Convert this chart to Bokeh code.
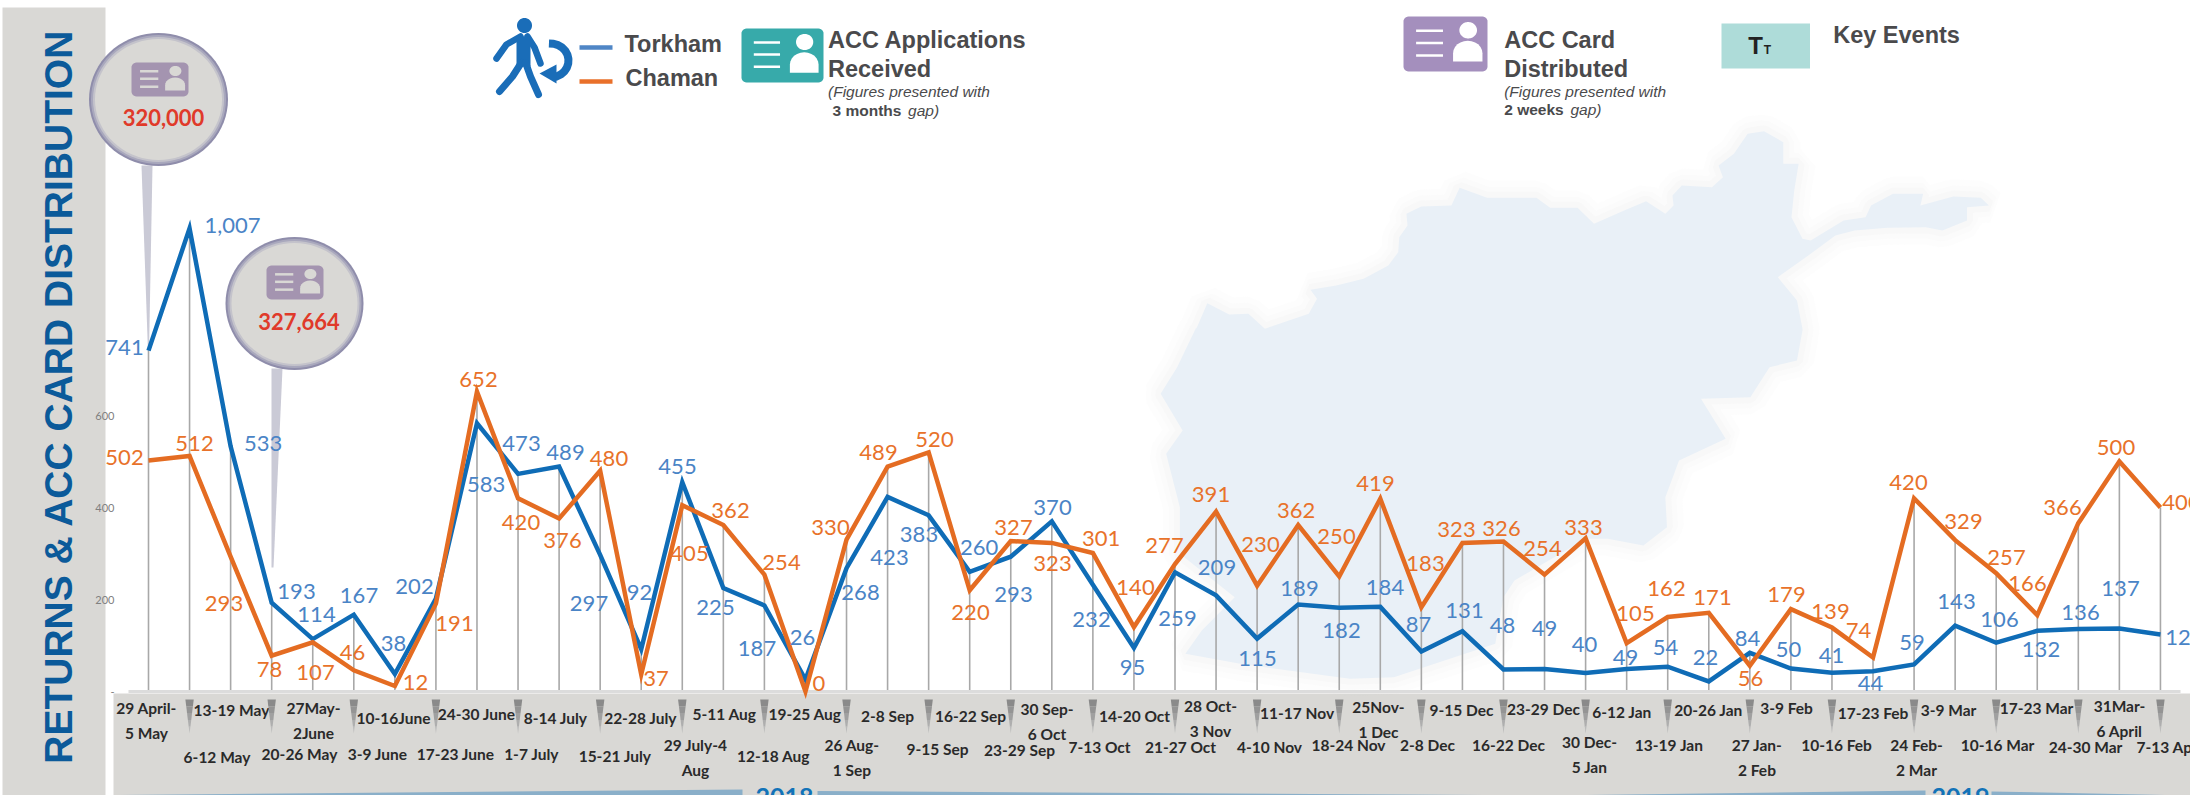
import math
from bokeh.plotting import figure
from bokeh.embed import file_html
from bokeh.resources import INLINE
from bokeh.core.properties import value
from bokeh.models import FixedTicker

# ---------- data ----------
weeks = ["29 April-\n5 May","6-12 May","13-19 May","20-26 May","27May-\n2June","3-9 June","10-16June",
         "17-23 June","24-30 June","1-7 July","8-14 July","15-21 July","22-28 July","29 July-4\nAug",
         "5-11 Aug","12-18 Aug","19-25 Aug","26 Aug-\n1 Sep","2-8 Sep","9-15 Sep","16-22 Sep","23-29 Sep",
         "30 Sep-\n6 Oct","7-13 Oct","14-20 Oct","21-27 Oct","28 Oct-\n3 Nov","4-10 Nov","11-17 Nov",
         "18-24 Nov","25Nov-\n1 Dec","2-8 Dec","9-15 Dec","16-22 Dec","23-29 Dec","30 Dec-\n5 Jan",
         "6-12 Jan","13-19 Jan","20-26 Jan","27 Jan-\n2 Feb","3-9 Feb","10-16 Feb","17-23 Feb",
         "24 Feb-\n2 Mar","3-9 Mar","10-16 Mar","17-23 Mar","24-30 Mar","31Mar-\n6 April","7-13 Apr"]
torkham = [741,1007,533,193,114,167,38,202,583,473,489,297,92,455,225,187,26,268,423,383,260,293,370,232,95,
           259,209,115,189,182,184,87,131,48,49,40,49,54,22,84,50,41,44,59,143,106,132,136,137,124]
chaman = [502,512,293,78,107,46,12,191,652,420,376,480,37,405,362,254,0,330,489,520,220,327,323,301,140,
          277,391,230,362,250,419,183,323,326,254,333,105,162,171,56,179,139,74,420,329,257,166,366,500,400]
y_ticks = [0,200,400,600]

# ---------- layout (page pixels) ----------
X0, DX, Y0, KY = 148.0, 41.06, 691.0, 0.46
W, H = 2190, 795
fx = lambda px: (px - X0) / DX
fy = lambda py: (Y0 - py) / KY
fxs = lambda a: [fx(v) for v in a]
fys = lambda a: [fy(v) for v in a]

tork_lx = [124,232,262.6,296,316,358.5,393,414,485.6,521,565,588.5,639,677,715,756.5,802,860,889,918.5,978.6,1013,1052,1091,1132,
           1177,1216.5,1257,1299,1341,1384.5,1418,1464,1502,1544,1584,1625,1665,1705,1747,1788,1831,1870,1911.6,1956,1999,2040.5,2080,2120,2184]
tork_ly = [347,225,443,591,614,595,643,586,484,443,452,603,592,466,607,648,637,592,557,534,547,594,507,619,667,
           618,567,658,588,630,587,624,610,625,628,644,657,647,657,638,649,655,683,642,601,619,649,612,588,637]
cham_lx = [124,194,223.5,269,315,352,415,454,478,520.5,562,608.5,655.5,689,730,781,818.5,830,878,934,970,1013,1052,1100.6,1135,
           1164,1210.5,1260,1295.6,1336,1375,1425,1456,1501,1542,1583,1635,1666,1712,1750,1786,1830,1858,1908,1963,2006,2027,2062,2115.5,2181]
cham_ly = [457,443,603,669,672,652,682,623,379,522,540,458,678,553,510,562,683,527,452,439,612,527,563,538,587,
           545,494,544,510,536,483,563,529,528,548,527,613,588,597,678,594,611,630,482,521,557,583,507,447,502]
week_lx = [146,216.5,231,299,313,377,393,455,476,531,555,614.5,640,695,724,773,804.5,851.5,887,937,970,1019,1046.5,1099,1134,
           1180,1210,1269,1296.6,1348,1378,1427,1461,1508,1543,1589,1621.5,1668.6,1708,1756.5,1786,1836,1872.5,1916,1948,1997,2036,2085,2119,2167]
week_ly = [720,756,709,753,720,753,717,753,713,753,717,755,717,757,713,755,713,757,715,748,715,749,721,746,715,
           746,718,746,712,744,719,744,709,744,708,754,711,744,709,757,707,744,712,757,709,744,707,746,718,746]

GREY = "#d9d8d5"
BLUE, ORANGE = "#0f6cb6", "#e46c22"
BLUE_T, ORANGE_T = "#4a84c6", "#e8722a"
INK = "#4a4a4c"
BODY = "Lato"

p = figure(width=W, height=H, output_backend="svg", toolbar_location=None,
           x_range=(fx(0), fx(W)), y_range=(fy(H), fy(0)),
           x_axis_location=None, y_axis_location="left",
           min_border_left=0, min_border_right=0, min_border_top=0, min_border_bottom=0,
           outline_line_color=None, background_fill_color="white", border_fill_color="white")
p.grid.visible = False
ax = p.yaxis[0]
ax.fixed_location = fx(116)
ax.ticker = FixedTicker(ticks=y_ticks)
ax.major_label_overrides = {0: "-"}
ax.axis_line_color = None
ax.major_tick_line_color = None
ax.minor_tick_line_color = None
ax.major_tick_out = 0
ax.major_tick_in = 0
ax.major_label_standoff = 2
ax.major_label_text_font = BODY
ax.major_label_text_font_size = "11px"
ax.major_label_text_color = "#808080"


def ell(cx, cy, w, h, n=72):
    t = [2 * math.pi * i / n for i in range(n)]
    return [cx + w / 2 * math.cos(a) for a in t], [cy + h / 2 * math.sin(a) for a in t]


def poly(xs, ys, color, level="glyph", alpha=1.0):
    p.patch(fxs(xs), fys(ys), fill_color=color, line_color=None, level=level, fill_alpha=alpha)


def txt(x, y, s, size, color=INK, font="Liberation Sans", style="normal", align="left", angle=0):
    p.text([fx(x)], [fy(y)], [s], text_font=value(font), text_font_size=f"{size}px", text_color=color,
           text_font_style=style, text_align=align, text_baseline="middle", angle=angle)


def rrect(x0, x1, y0, y1, r):
    xs, ys = [], []
    for cx, cy, a0 in [(x1 - r, y0 + r, -90), (x1 - r, y1 - r, 0), (x0 + r, y1 - r, 90), (x0 + r, y0 + r, 180)]:
        for k in range(7):
            a = math.radians(a0 + 15 * k)
            xs.append(cx + r * math.cos(a)); ys.append(cy + r * math.sin(a))
    return xs, ys


def card(x0, x1, y0, y1, color, ink="white"):
    w, h = x1 - x0, y1 - y0
    poly(*rrect(x0, x1, y0, y1, 5), color)
    for fr in (.26, .48, .71):
        p.line(fxs([x0 + .15 * w, x0 + .47 * w]), fys([y0 + fr * h] * 2), line_color=ink, line_width=2.5)
    poly(*ell(x0 + .77 * w, y0 + .25 * h, .21 * w, .30 * h), ink)
    bx0, bx1, by0, by1 = x0 + .59 * w, x0 + .94 * w, y0 + .44 * h, y0 + .82 * h
    bw = bx1 - bx0
    dome = [(bx0 + bw / 2 - bw / 2 * math.cos(math.pi * k / 12), by0 + (by1 - by0) * .6 - (by1 - by0) * .6 * math.sin(math.pi * k / 12)) for k in range(13)]
    poly([d[0] for d in dome] + [bx1, bx0], [d[1] for d in dome] + [by1, by1], ink)


def box(x0, x1, y0, y1, color):
    poly([x0, x1, x1, x0], [y0, y0, y1, y1], color, level="underlay")


def bubble(cx, cy, w, h):
    for d, col in [(0, "#8f8dab"), (4, "#a9a8bd"), (8, "#c4c3cb"), (12, GREY)]:
        poly(*ell(cx, cy, w - d, h - d), col, level="underlay")


# ---------- background panels ----------
box(2, 105, 7, H, GREY)
box(113, W, 693, H, GREY)

# map silhouette
z10 = [(120,655),(140,578),(180,612),(215,610),(245,655),(262,645),(325,610),(340,565),(328,538),(375,525),(425,505),(470,465),
       (488,425),(490,380),(505,345),(503,310),(530,288),(585,285),(600,232),(650,262),(740,262),(765,292),(815,292),(845,340),
       (900,300),(940,272),(975,310),(990,285),(988,255),(1005,225),(1060,230),(1080,200),(1072,165),(1100,130),(1125,70),(1155,62),
       (1190,95),(1190,160),(1218,160),(1210,240),(1205,320),(1225,385),(1240,390),(1300,330),(1340,320),(1350,285),(1390,250),
       (1445,250),(1440,285),(1500,258),(1550,262),(1565,285),(1525,290),(1525,330),(1480,360),(1450,350),(1380,352),(1320,360),
       (1285,375),(1240,430),(1180,500),(1215,570),(1225,655)]
z7 = [(1225,300),(1215,390),(1165,410),(1130,500),(1040,505),(1085,625),(1000,690),(975,800),(978,890),(935,945),(870,925),(830,925),
      (700,1050),(680,1100),(665,1240),(480,1340),(400,1345),(200,1300),(100,1270),(130,1200),(190,1100),(90,970),(90,830),(65,670),
      (95,600),(55,490),(85,410),(120,290)]
map_x = [1130 + a / 1.823 for a, b in z10] + [1130 + a / 1.823 for a, b in z7]
map_y = [110 + b / 3 for a, b in z10] + [230 + b / 3 for a, b in z7]
for lw, al in [(34, .05), (22, .07), (12, .10)]:
    p.patch(fxs(map_x), fys(map_y), fill_color=None, fill_alpha=0, line_color="#dddddd", line_alpha=al, line_width=lw, level="underlay")
poly(map_x, map_y, "#e9f0f7", level="underlay")

# year ribbons
for xs, ys in [([119,742,742,119],[794.5,789,795,795]), ([817,1482,1482,817],[790.5,794.5,795,795]),
               ([1587,1925,1925,1587],[794.5,790,795,795]), ([1991,2164,2164,1991],[791,794.5,795,795])]:
    poly(xs, ys, "#8aafc9", level="underlay")

# ---------- callout needles and bubbles ----------
poly([141,152,148.5,147.5],[165,165,352,352], "#cacad6", level="underlay")
poly([271,282,273,271],[368,368,567,567], "#cacad6", level="underlay")
bubble(158, 99, 139, 133)
bubble(294, 303, 138, 133)

# ---------- chart ----------
idx = list(range(len(weeks)))
p.segment(idx, [0] * len(idx), idx, [max(a, b) for a, b in zip(torkham, chaman)], line_color="#a8a8a8", line_width=1.6)
p.line(fxs([128, 2180]), [0, 0], line_color="#dcdcdc", line_width=3)
p.line(idx, torkham, line_color=BLUE, line_width=4.5, line_join="miter")
p.line(idx, chaman, line_color=ORANGE, line_width=4.5, line_join="miter")


def labels(vals, lx, ly, color):
    p.text(idx, vals, [f"{v:,}" for v in vals],
           x_offset=[a - (X0 + DX * i) for i, a in enumerate(lx)],
           y_offset=[b - (Y0 - KY * v) for v, b in zip(vals, ly)],
           text_font=value(BODY), text_font_size="22px", text_color=color, text_align="center", text_baseline="middle")


labels(torkham, tork_lx, tork_ly, BLUE_T)
labels(chaman, cham_lx, cham_ly, ORANGE_T)

# week labels and pointers
p.text(idx, [0] * len(idx), weeks,
       x_offset=[a - (X0 + DX * i) for i, a in enumerate(week_lx)],
       y_offset=[b - Y0 for b in week_ly],
       text_font=value(BODY), text_font_style="bold", text_font_size="15.5px", text_color="#2a2a2a",
       text_align="center", text_baseline="middle", text_line_height=1.35)
for i in idx[1::2]:
    cx = X0 + DX * i
    for k, col in enumerate(["#8a8a8a", "#949494", "#a0a0a0", "#aeaeae", "#bbbbbb"]):
        t0, t1 = k / 5, (k + 1) / 5
        hw0, hw1 = 4.2 * (1 - t0), 4.2 * (1 - t1)
        poly([cx - hw0, cx + hw0, cx + hw1, cx - hw1], [699 + 34 * t0, 699 + 34 * t0, 699 + 34 * t1, 699 + 34 * t1], col)

# year labels
txt(784, 796, "2018", 25, "#1273b8", BODY, "bold", "center")
txt(1960, 796, "2019", 25, "#1273b8", BODY, "bold", "center")

# ---------- bubbles content ----------
card(131, 188, 62, 96, "#a494b0", GREY)
txt(163, 117, "320,000", 22, "#e03a2a", BODY, "bold", "center")
card(266, 323, 265, 299, "#a494b0", GREY)
txt(298.5, 321, "327,664", 22, "#e03a2a", BODY, "bold", "center")

# ---------- legend ----------
ICON = "#1a6db8"
poly(*ell(524, 25, 15, 15), ICON)
p.line(fxs([520, 506, 496]), fys([36, 44, 58]), line_color=ICON, line_width=6.5, line_cap="round")
p.line(fxs([527, 534, 540]), fys([36, 47, 63]), line_color=ICON, line_width=6.5, line_cap="round")
p.line(fxs([523, 523]), fys([36, 66]), line_color=ICON, line_width=14)
p.line(fxs([521, 512, 499]), fys([62, 76, 91]), line_color=ICON, line_width=7, line_cap="round")
p.line(fxs([525, 530, 538]), fys([62, 76, 94]), line_color=ICON, line_width=7, line_cap="round")
arc = [math.radians(-95 + k * 15) for k in range(13)]
p.line([fx(550 + 18 * math.cos(a)) for a in arc], [fy(60 + 17 * math.sin(a)) for a in arc], line_color=ICON, line_width=8)
poly([539, 556, 556], [73, 64, 83], ICON)

p.line(fxs([579, 612]), fys([47, 47]), line_color="#4f86c6", line_width=4.5)
p.line(fxs([579, 612]), fys([81, 81]), line_color="#e9702a", line_width=4.5)
txt(624, 43, "Torkham", 23.5, style="bold")
txt(625, 77, "Chaman", 23.5, style="bold")

card(741, 823, 28, 82, "#37aaaa")
txt(827.5, 39, "ACC Applications", 23.5, style="bold")
txt(827.5, 68, "Received", 23.5, style="bold")
txt(827.5, 91, "(Figures presented with", 15.5, style="italic")
txt(832, 110, "3 months", 15.5, style="bold")
txt(907.6, 110, "gap)", 15.5, style="italic")

card(1403, 1487, 16, 71, "#a48fbd")
txt(1503.7, 39, "ACC Card", 23.5, style="bold")
txt(1503.7, 68, "Distributed", 23.5, style="bold")
txt(1503.7, 91, "(Figures presented with", 15.5, style="italic")
txt(1503.7, 109, "2 weeks", 15.5, style="bold")
txt(1570, 109, "gap)", 15.5, style="italic")

poly([1721, 1809.5, 1809.5, 1721], [23, 23, 68, 68], "#aedcd9")
txt(1755, 45, "T", 24, "#222222", style="bold", align="center")
txt(1767, 49, "T", 12, "#222222", style="bold", align="center")
txt(1832.7, 34, "Key Events", 23.5, style="bold")

# ---------- side title ----------
txt(58, 396, "RETURNS & ACC CARD DISTRIBUTION", 39, "#0b5a9a", style="bold", align="center", angle=math.pi / 2)

open("out.html", "w").write(file_html(p, INLINE))
